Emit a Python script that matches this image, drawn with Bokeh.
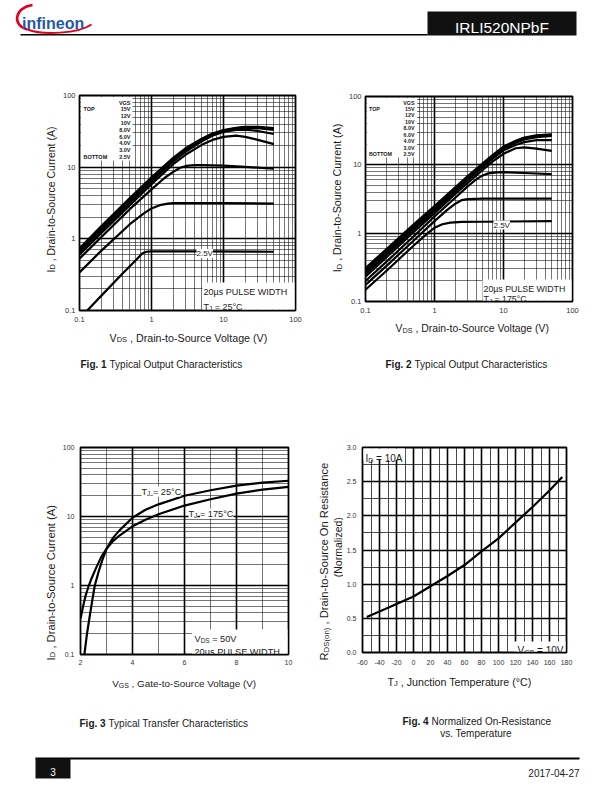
import math
from bokeh.plotting import figure
from bokeh.models import Range1d, FixedTicker, Label, BoxAnnotation, CustomJSTickFormatter
from bokeh.layouts import column, row
from bokeh.embed import file_html
from bokeh.resources import INLINE
from bokeh.core.properties import value

FONT = "Liberation Sans"
INK = "#1a1a1a"
BLUE = "#1f5aa6"
RED = "#e2001a"

# ===================== data =====================
VGS_LEGEND = ["15V", "12V", "10V", "8.0V", "6.0V", "4.0V", "3.0V", "2.5V"]

# Fig. 1  Typical output characteristics, TJ = 25 C  (VDS in V, ID in A)
F1_VDS = [0.1, 0.2, 0.5, 1, 2, 3, 5, 7, 10, 15, 20, 30, 50]
F1_ID_15V = [0.74, 1.5, 3.7, 7.2, 13.5, 18.5, 25, 29.5, 33, 35.5, 36.5, 36.5, 35]
F1_ID_12V = [0.71, 1.42, 3.5, 6.9, 13, 18, 24.5, 29, 32.5, 35, 36, 36, 34]
F1_ID_10V = [0.68, 1.36, 3.35, 6.6, 12.5, 17.5, 24, 28.5, 32, 34.5, 35, 35, 33]
F1_ID_8V = [0.65, 1.3, 3.2, 6.3, 12, 16.5, 23, 27.5, 31, 33, 33.5, 32, 29]
F1_ID_6V = [0.6, 1.2, 2.95, 5.8, 11, 15, 20.5, 24, 26.5, 27.5, 26.5, 24, 21]
F1_VDS_4V = [0.1, 0.2, 0.5, 1, 1.5, 2, 2.5, 3, 4, 5, 10, 20, 50]
F1_ID_4V = [0.53, 1.05, 2.6, 4.9, 7, 8.6, 9.8, 10.4, 10.7, 10.7, 10.5, 10.1, 9.5]
F1_VDS_3V = [0.1, 0.2, 0.5, 0.8, 1, 1.3, 1.7, 2, 5, 10, 50]
F1_ID_3V = [0.34, 0.68, 1.6, 2.3, 2.65, 2.95, 3.1, 3.15, 3.15, 3.15, 3.1]
F1_VDS_2V5 = [0.128, 0.2, 0.4, 0.6, 0.75, 0.85, 1, 5, 50]
F1_ID_2V5 = [0.1, 0.16, 0.33, 0.5, 0.63, 0.66, 0.67, 0.67, 0.66]

# Fig. 2  Typical output characteristics, TJ = 175 C
F2_VDS = [0.1, 0.2, 0.5, 1, 2, 3, 5, 7, 10, 15, 20, 30, 50]
F2_ID_15V = [0.31, 0.58, 1.35, 2.5, 4.7, 6.8, 10.5, 14, 18.5, 22.5, 25, 27, 28]
F2_ID_12V = [0.29, 0.55, 1.28, 2.38, 4.5, 6.5, 10.1, 13.5, 18, 22, 24.5, 26.5, 27.5]
F2_ID_10V = [0.27, 0.52, 1.21, 2.26, 4.3, 6.2, 9.7, 13, 17.3, 21, 23.5, 25.5, 26.5]
F2_ID_8V = [0.25, 0.48, 1.13, 2.12, 4.05, 5.9, 9.2, 12.3, 16.3, 19.5, 21.5, 23, 23]
F2_ID_6V = [0.23, 0.44, 1.04, 1.96, 3.75, 5.4, 8.4, 11.2, 14.5, 17.5, 18, 17.3, 16]
F2_VDS_4V = [0.1, 0.2, 0.5, 1, 2, 3, 4, 5, 6, 8, 10, 20, 50]
F2_ID_4V = [0.2, 0.38, 0.9, 1.75, 3.3, 4.8, 6.1, 7.0, 7.5, 7.75, 7.8, 7.6, 7.3]
F2_VDS_3V = [0.1, 0.2, 0.5, 1, 1.5, 2, 2.5, 3, 5, 10, 50]
F2_ID_3V = [0.175, 0.33, 0.78, 1.5, 2.15, 2.7, 3.05, 3.15, 3.2, 3.2, 3.2]
F2_VDS_2V5 = [0.1, 0.2, 0.5, 0.8, 1, 1.3, 1.7, 2.5, 5, 50]
F2_ID_2V5 = [0.149, 0.28, 0.66, 1.0, 1.2, 1.35, 1.43, 1.46, 1.47, 1.5]

# Fig. 3  Typical transfer characteristics (VGS in V, ID in A), VDS = 50 V
F3_VGS_25C = [2.15, 2.25, 2.35, 2.45, 2.55, 2.7, 2.85, 3.0, 3.25, 3.5, 4, 4.5, 5, 6, 7, 8, 9, 10]
F3_ID_25C = [0.1, 0.2, 0.35, 0.6, 1.0, 1.6, 2.4, 3.4, 4.9, 6.3, 9.6, 12.5, 15, 20, 24, 28, 31, 33]
F3_VGS_175C = [2.0, 2.1, 2.2, 2.3, 2.4, 2.6, 2.8, 3.0, 3.25, 3.5, 4, 4.5, 5, 6, 7, 8, 9, 10]
F3_ID_175C = [0.33, 0.5, 0.72, 0.95, 1.2, 1.8, 2.6, 3.4, 4.4, 5.3, 7.2, 9.0, 10.8, 14.4, 17.8, 21.5, 24.5, 26.8]

# Fig. 4  Normalized on-resistance vs. junction temperature, ID = 10 A, VGS = 10 V
F4_TJ = [-55, -40, -20, 0, 20, 40, 60, 80, 100, 120, 140, 160, 175]
F4_RDS = [0.52, 0.6, 0.71, 0.82, 0.97, 1.12, 1.28, 1.48, 1.67, 1.9, 2.13, 2.37, 2.57]

# ===================== helpers =====================
CW = {' ': 278, ',': 278, '-': 333, '.': 278, '(': 333, ')': 333, '=': 584, '°': 400, 'µ': 577,
      'A': 667, 'B': 667, 'C': 722, 'D': 722, 'E': 667, 'F': 611, 'G': 778, 'H': 722, 'I': 278,
      'J': 500, 'L': 556, 'M': 833, 'N': 722, 'O': 778, 'P': 667, 'R': 722, 'S': 667, 'T': 611,
      'U': 722, 'V': 667, 'W': 944, 'a': 556, 'b': 556, 'c': 500, 'd': 556, 'e': 556, 'f': 278,
      'g': 556, 'h': 556, 'i': 222, 'l': 222, 'm': 833, 'n': 556, 'o': 556, 'p': 556, 'r': 333,
      's': 500, 't': 278, 'u': 556, 'v': 500, 'y': 500, 'z': 500}


def tw(s, size, bold=False):
    w = sum(CW.get(ch, 556) for ch in s) * size / 1000.0
    return w * (1.05 if bold else 1.0)


def run_positions(px, py, parts, angle):
    """Lay text runs end to end; leading blanks become an advance (SVG drops them)."""
    pos = 0.0
    out = []
    for s, size, shift, bold in parts:
        t = s.lstrip(" ")
        pos += tw(s[: len(s) - len(t)], size, bold)
        if angle == 0:
            out.append((px + pos, py + shift, t, size, bold))
        else:
            out.append((px + shift, py - pos, t, size, bold))
        pos += tw(t, size, bold)
    return out


class TextFig:
    """Blank figure whose data coordinates are the page pixels it covers."""

    def __init__(self, x0, y0, w, h):
        self.p = figure(width=w, height=h, x_range=Range1d(x0, x0 + w), y_range=Range1d(y0 + h, y0),
                        x_axis_type=None, y_axis_type=None, toolbar_location=None,
                        output_backend="svg", title=None, min_border=0, outline_line_color=None,
                        frame_align=False)
        self.p.background_fill_color = "white"
        self.p.border_fill_color = "white"

    def text(self, px, py, s, size, bold=False, align="left", angle=0, color=INK):
        self.p.text(x=[px], y=[py], text=[s], text_font=value(FONT), text_font_size=f"{size}px",
                    text_font_style="bold" if bold else "normal", text_color=color,
                    text_align=align, text_baseline="alphabetic", angle=angle, angle_units="deg")

    def runs(self, px, py, parts, angle=0):
        for x, y, s, size, bold in run_positions(px, py, parts, angle):
            self.text(x, y, s, size, bold, angle=angle)


class Chart:
    def __init__(self, org, size, frame, xr, yr, xlog, ylog):
        ox, oy = org
        W, H = size
        self.fl, self.ft, self.fr, self.fb = frame
        self.xr, self.yr, self.xlog, self.ylog = xr, yr, xlog, ylog
        self.p = figure(width=W, height=H, x_range=Range1d(*xr), y_range=Range1d(*yr),
                        x_axis_type="log" if xlog else "linear",
                        y_axis_type="log" if ylog else "linear",
                        toolbar_location=None, output_backend="svg", title=None,
                        frame_align=False,
                        min_border_left=self.fl - ox, min_border_right=ox + W - self.fr,
                        min_border_top=self.ft - oy, min_border_bottom=oy + H - self.fb)
        self.p.background_fill_color = "white"
        self.p.border_fill_color = "white"

    def _map(self, t, r, log):
        a, b = r
        if log:
            return 10 ** (math.log10(a) + t * (math.log10(b) - math.log10(a)))
        return a + t * (b - a)

    def dx(self, px):
        return self._map((px - self.fl) / (self.fr - self.fl), self.xr, self.xlog)

    def dy(self, py):
        return self._map((self.fb - py) / (self.fb - self.ft), self.yr, self.ylog)

    def box(self, x0, y0, x1, y1):
        self.p.add_layout(BoxAnnotation(left=self.dx(x0), right=self.dx(x1), top=self.dy(y0),
                                        bottom=self.dy(y1), fill_color="white", fill_alpha=1.0,
                                        line_color=None, level="underlay"))

    def text(self, px, py, s, size, bold=False, align="left", angle=0, bg=None, color=INK):
        kw = {}
        if bg:
            kw = dict(background_fill_color=bg, background_fill_alpha=1.0)
        self.p.add_layout(Label(x=self.xr[0], y=self.yr[0], x_units="data", y_units="data",
                                x_offset=px - self.fl, y_offset=self.fb - py, text=s,
                                text_font=FONT, text_font_size=f"{size}px",
                                text_font_style="bold" if bold else "normal",
                                text_color=color, text_align=align, text_baseline="alphabetic",
                                angle=angle, angle_units="deg", **kw))

    def runs(self, px, py, parts, angle=0, bg=None):
        for x, y, s, size, bold in run_positions(px, py, parts, angle):
            self.text(x, y, s, size, bold, angle=angle, bg=bg)

    def style(self, xt, xm, yt, ym, xfmt, yfmt, tick_size, xst, yst, major_w=1.6, minor_w=0.6):
        p = self.p
        p.xaxis.ticker = FixedTicker(ticks=xt, minor_ticks=xm)
        p.yaxis.ticker = FixedTicker(ticks=yt, minor_ticks=ym)
        p.xaxis.formatter = CustomJSTickFormatter(code=xfmt)
        p.yaxis.formatter = CustomJSTickFormatter(code=yfmt)
        for ax, st in ((p.xaxis, xst), (p.yaxis, yst)):
            ax.axis_line_color = None
            ax.major_tick_line_color = None
            ax.minor_tick_line_color = None
            ax.major_tick_out = 0
            ax.minor_tick_out = 0
            ax.major_label_text_font = FONT
            ax.major_label_text_font_size = f"{tick_size}px"
            ax.major_label_text_color = "#333333"
            ax.major_label_standoff = st
        for g in (p.xgrid, p.ygrid):
            g.grid_line_color = "black"
            g.grid_line_width = major_w
            g.minor_grid_line_color = "#1a1a1a"
            g.minor_grid_line_width = minor_w
        p.outline_line_color = "black"
        p.outline_line_width = 1.8


def sub(main, s, rest, size):
    return [(main, size, 0, False), (s, size * 0.7, size * 0.22, False), (rest, size, 0, False)]


LOG_MAJ = [0.1, 1, 10, 100]
LOG_MIN = [k * 10 ** e for e in (-1, 0, 1) for k in range(2, 10)]
FMT_STR = "return tick.toString();"
FMT_1 = "return tick.toFixed(1);"
LW = 2.2
CAP = 10

# ===================== header =====================
H = TextFig(0, 0, 612, 60)
hp = H.p
hp.bezier(x0=[32], y0=[4.5], x1=[27], y1=[29], cx0=[14], cy0=[7], cx1=[11], cy1=[25],
          line_color=RED, line_width=2.6)
hp.bezier(x0=[27], y0=[29], x1=[91], y1=[24], cx0=[42], cy0=[35], cx1=[78], cy1=[33],
          line_color=RED, line_width=2.0)
H.text(21.5, 23.3, "infineon", 16, bold=True, color=BLUE)
hp.segment(x0=[20], y0=[34.3], x1=[427], y1=[34.3], line_color="black", line_width=1.5)
hp.quad(left=[427], right=[576], top=[11], bottom=[35], fill_color="#111111", line_color=None)
H.text(501.5, 27.3, "IRLI520NPbF", 15.5, align="center", color="white")

# ===================== Fig. 1 =====================
L1 = TextFig(0, 60, 58, 360)
c1 = Chart((58, 60), (257, 267), (79, 95, 295, 310), (0.1, 100), (0.1, 100), True, True)
T1 = TextFig(58, 327, 257, 93)
c1.style(LOG_MAJ, LOG_MIN, LOG_MAJ, LOG_MIN, FMT_STR, FMT_STR, 7.5, 6, 4)
c1.box(80.5, 96.5, 132, 160)
c1.box(202, 282, 294, 309)
for vds, ids in ((F1_VDS, F1_ID_15V), (F1_VDS, F1_ID_12V), (F1_VDS, F1_ID_10V), (F1_VDS, F1_ID_8V),
                 (F1_VDS, F1_ID_6V), (F1_VDS_4V, F1_ID_4V), (F1_VDS_3V, F1_ID_3V),
                 (F1_VDS_2V5, F1_ID_2V5)):
    c1.p.line(vds, ids, line_width=LW, line_color="black", line_join="round")
for k, t in enumerate(["VGS"] + VGS_LEGEND):
    c1.text(130, 100 + 6.8 * k + 2, t, 5.5, bold=True, align="right")
c1.text(83, 106.8 + 2, "TOP", 5.5, bold=True)
c1.text(83, 154.4 + 2, "BOTTOM", 5.5, bold=True)
c1.text(196, 253, "2.5V", 8, bg="white")
c1.text(203, 291.5, "20µs PULSE WIDTH", 9)
c1.runs(203, 306, sub("T", "J", " = 25°C", 9))
L1.runs(50, 272, sub("I", "D", " , Drain-to-Source Current (A)", 10.5), angle=90)
T1.runs(109, 337, sub("V", "DS", " , Drain-to-Source Voltage (V)", 10.7))
T1.runs(80, 363.5, [("Fig. 1", CAP, 0, True), (" Typical Output Characteristics", CAP, 0, False)])

# ===================== Fig. 2 =====================
L2 = TextFig(315, 60, 29, 360)
c2 = Chart((344, 60), (268, 257), (365, 96, 572, 301), (0.1, 100), (0.1, 100), True, True)
T2 = TextFig(344, 317, 268, 103)
c2.style(LOG_MAJ, LOG_MIN, LOG_MAJ, LOG_MIN, FMT_STR, FMT_STR, 7.5, 6, 4)
c2.box(366.5, 97.5, 416.5, 157)
c2.box(482, 279, 571, 300)
for vds, ids in ((F2_VDS, F2_ID_15V), (F2_VDS, F2_ID_12V), (F2_VDS, F2_ID_10V), (F2_VDS, F2_ID_8V),
                 (F2_VDS, F2_ID_6V), (F2_VDS_4V, F2_ID_4V), (F2_VDS_3V, F2_ID_3V),
                 (F2_VDS_2V5, F2_ID_2V5)):
    c2.p.line(vds, ids, line_width=LW, line_color="black", line_join="round")
for k, t in enumerate(["VGS"] + VGS_LEGEND):
    c2.text(414, 100 + 6.46 * k + 2, t, 5.3, bold=True, align="right")
c2.text(368.5, 106.5 + 2, "TOP", 5.3, bold=True)
c2.text(368.5, 151.7 + 2, "BOTTOM", 5.3, bold=True)
c2.text(493, 224.5, "2.5V", 8, bg="white")
c2.text(483, 288, "20µs PULSE WIDTH", 8.8)
c2.runs(483, 298.5, sub("T", "J", " = 175°C", 8.8))
L2.runs(336.7, 271.7, sub("I", "D", " , Drain-to-Source Current (A)", 10.7), angle=90)
T2.runs(395, 327.7, sub("V", "DS", " , Drain-to-Source Voltage (V)", 10.4))
T2.runs(385, 363.5, [("Fig. 2", CAP, 0, True), (" Typical Output Characteristics", CAP, 0, False)])

# ===================== Fig. 3 =====================
L3 = TextFig(0, 420, 59, 325)
c3 = Chart((59, 420), (249, 249), (79, 447, 288, 654), (2, 10), (0.1, 100), False, True)
T3 = TextFig(59, 669, 249, 76)
c3.style([2, 4, 6, 8, 10], [3, 5, 7, 9], LOG_MAJ, LOG_MIN, FMT_STR, FMT_STR, 7, 5, 6)
c3.box(191, 629, 287, 653)
c3.p.line(F3_VGS_25C, F3_ID_25C, line_width=LW, line_color="black", line_join="round")
c3.p.line(F3_VGS_175C, F3_ID_175C, line_width=LW, line_color="black", line_join="round")
c3.runs(140, 491, sub("T", "J", " = 25°C", 9.2), bg="white")
c3.runs(187, 513, sub("T", "J", " = 175°C", 9.2), bg="white")
c3.runs(193, 638, sub("V", "DS", " = 50V", 9.2))
c3.text(193, 651, "20µs PULSE WIDTH", 9.2)
L3.runs(50, 660, sub("I", "D", " , Drain-to-Source Current (A)", 11.2), angle=90)
T3.runs(111.7, 683, sub("V", "GS", " , Gate-to-Source Voltage (V)", 9.9))
T3.runs(79, 722.5, [("Fig. 3", CAP, 0, True), (" Typical Transfer Characteristics", CAP, 0, False)])

# ===================== Fig. 4 =====================
L4 = TextFig(308, 420, 35, 325)
c4 = Chart((343, 420), (269, 249), (360, 447, 566, 652), (-60, 180), (0, 3), False, False)
T4 = TextFig(343, 669, 269, 76)
c4.style(list(range(-60, 181, 20)), list(range(-50, 180, 20)),
         [0, 0.5, 1.0, 1.5, 2.0, 2.5, 3.0], [0.25, 0.75, 1.25, 1.75, 2.25, 2.75],
         FMT_STR, FMT_1, 7, 7, 6, major_w=1.6, minor_w=0.8)
c4.box(361, 448, 403, 459.5)
c4.box(513, 641, 565, 651)
c4.p.line(F4_TJ, F4_RDS, line_width=LW, line_color="black", line_join="round")
c4.runs(363, 457.5, sub("I", "D", " = 10A", 10))
c4.runs(515, 650, sub("V", "GS", " = 10V", 10))
L4.runs(323.5, 660, sub("R", "DS(on)", " , Drain-to-Source On Resistance", 11.2), angle=90)
L4.text(337.5, 546.7, "(Normalized)", 10.5, align="center", angle=90)
T4.runs(387, 681, sub("T", "J", " , Junction Temperature (°C)", 10.7))
T4.runs(402, 720.5, [("Fig. 4", CAP, 0, True), (" Normalized On-Resistance", CAP, 0, False)])
T4.text(475.5, 733, "vs. Temperature", CAP, align="center")

# ===================== footer =====================
F = TextFig(0, 745, 612, 45)
fp = F.p
fp.segment(x0=[35], y0=[758], x1=[579], y1=[758], line_color="black", line_width=2)
fp.quad(left=[35], right=[70], top=[758], bottom=[778], fill_color="#111111", line_color=None)
F.text(52.5, 771.5, "3", 10, align="center", color="white")
F.text(579, 772, "2017-04-27", 10, align="right")

layout = column(
    H.p,
    row(L1.p, column(c1.p, T1.p), L2.p, column(c2.p, T2.p)),
    row(L3.p, column(c3.p, T3.p), L4.p, column(c4.p, T4.p)),
    F.p,
)
open("out.html", "w").write(file_html(layout, INLINE))
